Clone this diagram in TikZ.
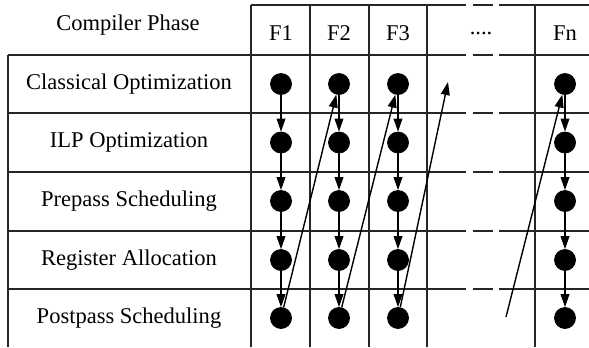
\documentclass[tikz,border=0pt]{standalone}
\usepackage{fontspec}
\setmainfont{Liberation Serif}
\usetikzlibrary{arrows.meta}
\usetikzlibrary{positioning}

\begin{document}
\begin{tikzpicture}
		[
			x = 0.5bp, y = -0.5bp,
			grid/.style = {line width = 0.65bp, draw = black!85},
			phase/.style = {font = \fontsize{11.3}{13}\selectfont},
			dot/.style = {circle, fill = black, draw = black, inner sep = 0cm, minimum size = 10.5bp},
			flow/.style = {line width = 0.55bp, -{Triangle[length = 6.5bp, width = 4.4bp]}},
			pass/.style = {line width = 0.7bp, -{Triangle[length = 6.5bp, width = 4.4bp]}},
		]
			\useasboundingbox (0,0) rectangle (589,347);
			%
			% table
			\draw [grid] (8,55) -- (8,347);
			\draw [grid] (251,5) -- (251,347);
			\draw [grid] (310,5) -- (310,347);
			\draw [grid] (369,5) -- (369,347);
			\draw [grid] (427,5) -- (427,347);
			\draw [grid] (535,5) -- (535,347);
			\draw [grid] (251,5) -- (466,5) (473,5) -- (493,5) (499,5) -- (589,5);
			\draw [grid] (8,55) -- (466,55) (473,55) -- (493,55) (499,55) -- (589,55);
			\draw [grid] (8,113) -- (466,113) (473,113) -- (493,113) (499,113) -- (589,113);
			\draw [grid] (8,172) -- (466,172) (473,172) -- (493,172) (499,172) -- (589,172);
			\draw [grid] (8,231) -- (466,231) (473,231) -- (493,231) (499,231) -- (589,231);
			\draw [grid] (8,289) -- (466,289) (473,289) -- (493,289) (499,289) -- (589,289);
			%
			% labels
			\node (head) [phase] at (128,25) {Compiler Phase};
			\node (hF1) [phase] at (281,33) {F1};
			\node (hF2) [phase] at (339,33) {F2};
			\node (hF3) [phase] at (398,33) {F3};
			\node (hdots) [phase] at (481,33) {....};
			\node (hFn) [phase] at (565,33) {Fn};
			\node (cls) [phase] at (129,84) {Classical Optimization};
			\node (ilp) [phase] at (129,142.5) {ILP Optimization};
			\node (pre) [phase] at (129,201) {Prepass Scheduling};
			\node (reg) [phase] at (129,260) {Register Allocation};
			\node (post) [phase] at (129,318) {Postpass Scheduling};
			%
			% dots
			\node (F1cls) [dot] at (281,84) {};
			\node (F1ilp) [dot] at (281,142.5) {};
			\node (F1pre) [dot] at (281,201) {};
			\node (F1reg) [dot] at (281,260) {};
			\node (F1post) [dot] at (281,318) {};
			\node (F2cls) [dot] at (339,84) {};
			\node (F2ilp) [dot] at (339,142.5) {};
			\node (F2pre) [dot] at (339,201) {};
			\node (F2reg) [dot] at (339,260) {};
			\node (F2post) [dot] at (339,318) {};
			\node (F3cls) [dot] at (398,84) {};
			\node (F3ilp) [dot] at (398,142.5) {};
			\node (F3pre) [dot] at (398,201) {};
			\node (F3reg) [dot] at (398,260) {};
			\node (F3post) [dot] at (398,318) {};
			\node (Fncls) [dot] at (565,84) {};
			\node (Fnilp) [dot] at (565,142.5) {};
			\node (Fnpre) [dot] at (565,201) {};
			\node (Fnreg) [dot] at (565,260) {};
			\node (Fnpost) [dot] at (565,318) {};
			%
			\coordinate (auxA) at (448,82);
			\coordinate (auxB) at (506,317);
			%
			% phases inside one function
			\draw [flow] (F1cls) -- (F1ilp);
			\draw [flow] (F1ilp) -- (F1pre);
			\draw [flow] (F1pre) -- (F1reg);
			\draw [flow] (F1reg) -- (F1post);
			\draw [flow] (F2cls) -- (F2ilp);
			\draw [flow] (F2ilp) -- (F2pre);
			\draw [flow] (F2pre) -- (F2reg);
			\draw [flow] (F2reg) -- (F2post);
			\draw [flow] (F3cls) -- (F3ilp);
			\draw [flow] (F3ilp) -- (F3pre);
			\draw [flow] (F3pre) -- (F3reg);
			\draw [flow] (F3reg) -- (F3post);
			\draw [flow] (Fncls) -- (Fnilp);
			\draw [flow] (Fnilp) -- (Fnpre);
			\draw [flow] (Fnpre) -- (Fnreg);
			\draw [flow] (Fnreg) -- (Fnpost);
			%
			% next function
			\draw [pass] (F1post) -- (F2cls);
			\draw [pass] (F2post) -- (F3cls);
			\draw [pass] (F3post) -- (auxA);
			\draw [pass] (auxB) -- (Fncls);
			%
		\end{tikzpicture}
\end{document}
